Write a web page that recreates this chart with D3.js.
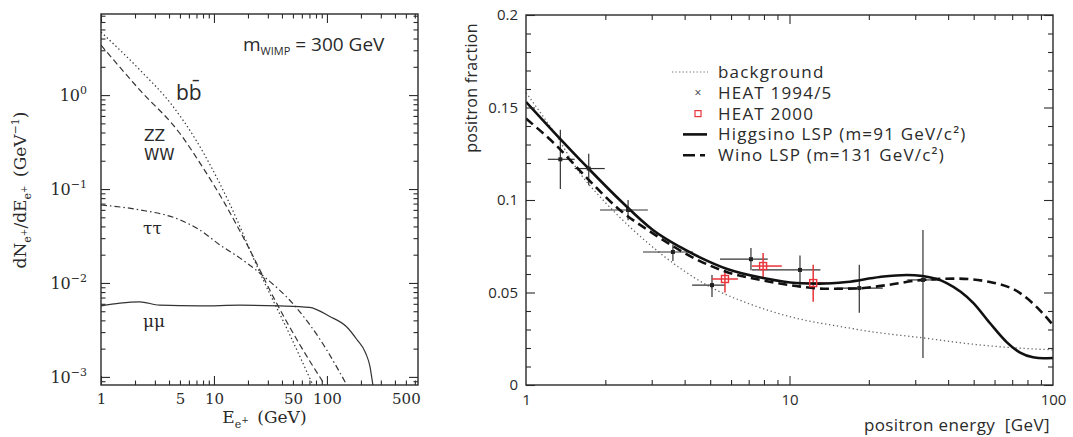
<!DOCTYPE html>
<html><head><meta charset="utf-8">
<script src="https://cdn.jsdelivr.net/npm/d3@7"></script>
<style>
body{margin:0;background:#fff;}
svg{display:block;}
</style></head>
<body>
<script>
// ---------- LEFT PANEL DATA: positron spectra dN/dE (GeV^-1) vs E (GeV) ----------
const bbE  = [1, 2.21, 4.25, 6.93, 13.3, 26.6, 47.1, 75];
const bbV  = [4.69, 1.85, 0.783, 0.332, 0.0762, 0.0115, 0.00278, 0.00082];
const wwE  = [1, 2.21, 5.0, 7.5, 12.0, 20.8, 34.6, 57.6, 96];
const wwV  = [3.4, 1.13, 0.39, 0.19, 0.076, 0.0224, 0.0066, 0.0022, 0.00082];
const tauE = [1, 2.21, 5.0, 7.5, 11.3, 16.9, 26.6, 52, 87, 150];
const tauV = [0.0676, 0.060, 0.047, 0.0366, 0.0254, 0.0185, 0.0122, 0.0057, 0.0025, 0.00082];
const muE  = [1, 1.47, 2.2, 3.3, 7.5, 17, 38, 70, 106, 150, 184, 220, 240, 255];
const muV  = [0.0057, 0.0061, 0.0063, 0.0058, 0.0057, 0.0058, 0.0057, 0.0055, 0.0044, 0.0034, 0.0025, 0.0018, 0.0013, 0.00082];
const leftXTicks = [1, 5, 10, 50, 100, 500];
const leftYTicks = [1e-3, 1e-2, 1e-1, 1];
const leftYExp = ["\u22123", "\u22122", "\u22121", "0"];

// ---------- RIGHT PANEL DATA: positron fraction vs energy ----------
const bgE  = [1, 1.3, 1.6, 1.96, 2.48, 3.0, 3.84, 5.0, 7.0, 10, 16.5, 20, 32, 50, 65, 100];
const bgV  = [0.158, 0.135, 0.1146, 0.1, 0.0854, 0.075, 0.0632, 0.053, 0.044, 0.037, 0.031, 0.029, 0.0255, 0.022, 0.0205, 0.019];
const higE = [1, 1.27, 1.7, 2.27, 3.03, 3.84, 4.57, 5.8, 7.94, 10.6, 13, 16.5, 22, 27.9, 32, 39.5, 49.9, 57.6, 66.7, 75, 84, 92, 100];
const higV = [0.153, 0.137, 0.118, 0.1, 0.0838, 0.0746, 0.069, 0.0627, 0.0578, 0.0551, 0.0548, 0.0557, 0.0584, 0.0595, 0.0589, 0.0551, 0.0443, 0.0335, 0.0232, 0.0175, 0.015, 0.0145, 0.0146];
const winE = [1, 1.27, 1.7, 2.27, 3.03, 4.57, 5.8, 7.94, 10.6, 13.9, 18, 23.4, 32, 43, 57.6, 75, 89, 100];
const winV = [0.144, 0.131, 0.112, 0.0946, 0.082, 0.067, 0.061, 0.0565, 0.0535, 0.052, 0.0522, 0.054, 0.0568, 0.0575, 0.0557, 0.0497, 0.0405, 0.0324];

const h95E   = [1.35, 1.73, 2.44, 3.61, 5.08, 7.14, 10.96, 18.4, 32.1];
const h95V   = [0.122, 0.117, 0.0946, 0.0719, 0.054, 0.068, 0.0622, 0.0524, 0.0568];
const h95Elo = [1.21, 1.53, 1.91, 2.78, 4.27, 5.45, 7.2, 15.1, 28];
const h95Ehi = [1.53, 1.99, 2.90, 4.30, 5.69, 8.27, 13.1, 22.6, 36];
const h95Vlo = [0.106, 0.108, 0.089, 0.067, 0.0476, 0.062, 0.054, 0.039, 0.0146];
const h95Vhi = [0.138, 0.125, 0.100, 0.076, 0.0595, 0.074, 0.070, 0.065, 0.0838];

const h00E   = [5.69, 7.94, 12.3];
const h00V   = [0.0573, 0.0643, 0.0551];
const h00Elo = [5.08, 7.2, 10.7];
const h00Ehi = [6.37, 9.35, 13.9];
const h00Vlo = [0.050, 0.0578, 0.045];
const h00Vhi = [0.062, 0.0713, 0.065];

const rightXTicks = [1, 10, 100];
const rightYTicks = [0, 0.05, 0.1, 0.15, 0.2];
const legendLabels = ["background", "HEAT 1994/5", "HEAT 2000", "Higgsino LSP (m=91 GeV/c\u00B2)", "Wino LSP (m=131 GeV/c\u00B2)"];

// ---------- DRAW ----------
const W = 1073, H = 437;
const svg = d3.select("body").append("svg").attr("width", W).attr("height", H);
svg.append("rect").attr("width", W).attr("height", H).attr("fill", "#fff");

const SERIF = "'DejaVu Serif', serif";
const SANS = "'Open Sans', 'Noto Sans', sans-serif";
const INK = "#2a2a2a";

// scales
const xL = d3.scaleLog().domain([1, 640]).range([101, 418]);
const yL = d3.scaleLog().domain([8.2e-4, 7.3]).range([385, 14]);
const xR = d3.scaleLog().domain([1, 100]).range([526, 1053]);
const yR = d3.scaleLinear().domain([0, 0.2]).range([385, 15]);

function logMinors(lo, hi) {
  const out = [];
  for (let d = Math.floor(Math.log10(lo)); d <= Math.ceil(Math.log10(hi)); d++) {
    for (let m = 2; m <= 9; m++) { const v = m * Math.pow(10, d); if (v > lo && v < hi) out.push(v); }
  }
  return out;
}
function styleAxis(g) {
  g.select(".domain").remove();
  g.selectAll(".tick line").attr("stroke", INK).attr("stroke-width", 1.1);
}
function frame(xs, ys) {
  const [x0, x1] = xs.range(), [y0, y1] = ys.range();
  svg.append("rect").attr("x", x0).attr("y", y1).attr("width", x1 - x0).attr("height", y0 - y1)
    .attr("fill", "none").attr("stroke", INK).attr("stroke-width", 1.4);
}
function ticksAll(xs, ys, xMaj, xMin, yMaj, yMin, majLen, minLen) {
  const [x0, x1] = xs.range(), [y0, y1] = ys.range();
  const add = (axisFn, scale, vals, len, tr) => {
    svg.append("g").attr("transform", tr)
      .call(axisFn(scale).tickValues(vals).tickSizeInner(-len).tickSizeOuter(0).tickFormat(""))
      .call(styleAxis);
  };
  add(d3.axisBottom, xs, xMaj, majLen, `translate(0,${y0})`);
  add(d3.axisBottom, xs, xMin, minLen, `translate(0,${y0})`);
  add(d3.axisTop, xs, xMaj, majLen, `translate(0,${y1})`);
  add(d3.axisTop, xs, xMin, minLen, `translate(0,${y1})`);
  add(d3.axisLeft, ys, yMaj, majLen, `translate(${x0},0)`);
  add(d3.axisLeft, ys, yMin, minLen, `translate(${x0},0)`);
  add(d3.axisRight, ys, yMaj, majLen, `translate(${x1},0)`);
  add(d3.axisRight, ys, yMin, minLen, `translate(${x1},0)`);
}

// ===== LEFT PANEL =====
svg.append("clipPath").attr("id", "clipL").append("rect")
  .attr("x", xL.range()[0]).attr("y", yL.range()[1])
  .attr("width", xL.range()[1] - xL.range()[0]).attr("height", yL.range()[0] - yL.range()[1]);

const lineL = d3.line().x(d => xL(d[0])).y(d => yL(d[1])).curve(d3.curveMonotoneX);
const gL = svg.append("g").attr("clip-path", "url(#clipL)");
const leftSeries = [
  {E: bbE, V: bbV, dash: "1.4,2.6"},
  {E: wwE, V: wwV, dash: "6,3.5"},
  {E: tauE, V: tauV, dash: "6,3,1.5,3"},
  {E: muE, V: muV, dash: null}
];
leftSeries.forEach(s => {
  gL.append("path").datum(s.E.map((e, i) => [e, s.V[i]]))
    .attr("d", lineL).attr("fill", "none").attr("stroke", "#333").attr("stroke-width", 1.2)
    .attr("stroke-dasharray", s.dash);
});

ticksAll(xL, yL, [1, 10, 100], logMinors(1, 640), leftYTicks, logMinors(8.2e-4, 7.3), 9, 4.5);

// left tick labels
svg.append("g").attr("transform", `translate(0,${yL.range()[0]})`)
  .call(d3.axisBottom(xL).tickValues(leftXTicks).tickSize(0).tickPadding(8).tickFormat(d3.format("d")))
  .call(g => g.select(".domain").remove())
  .call(g => g.selectAll("text").attr("font-family", SERIF).attr("font-size", 15).attr("fill", INK));

const yLab = svg.append("g").attr("transform", `translate(${xL.range()[0]},0)`)
  .call(d3.axisLeft(yL).tickValues(leftYTicks).tickSize(0).tickPadding(14).tickFormat(""))
  .call(g => g.select(".domain").remove());
yLab.selectAll("text").each(function(d, i) {
  const t = d3.select(this).attr("font-family", SERIF).attr("font-size", 16).attr("fill", INK).attr("dy", "0.35em");
  t.append("tspan").text("10");
  t.append("tspan").attr("dy", -7).attr("font-size", 11).text(leftYExp[i]);
});

// left axis titles
const xt = svg.append("text").attr("x", (xL(10) + xL(100)) / 2 - 6).attr("y", 423)
  .attr("text-anchor", "middle").attr("font-family", SERIF).attr("font-size", 17).attr("fill", INK);
xt.append("tspan").text("E");
xt.append("tspan").attr("dy", 5).attr("font-size", 11).text("e");
xt.append("tspan").attr("dy", -5).attr("font-size", 9).text("+");
xt.append("tspan").attr("dy", 0).text("\u2002(GeV)");

const yt = svg.append("text").attr("transform", `translate(26,${190}) rotate(-90)`)
  .attr("text-anchor", "middle").attr("font-family", SERIF).attr("font-size", 17).attr("fill", INK);
yt.append("tspan").text("dN");
yt.append("tspan").attr("dy", 5).attr("font-size", 11).text("e");
yt.append("tspan").attr("dy", -4).attr("font-size", 9).text("+");
yt.append("tspan").attr("dy", -1).text("/dE");
yt.append("tspan").attr("dy", 5).attr("font-size", 11).text("e");
yt.append("tspan").attr("dy", -4).attr("font-size", 9).text("+");
yt.append("tspan").attr("dy", -1).text("\u2002(GeV");
yt.append("tspan").attr("dy", -7).attr("font-size", 11).text("\u22121");
yt.append("tspan").attr("dy", 7).text(")");

// annotations
const mw = svg.append("text").attr("x", 243).attr("y", 51).attr("font-family", SANS).attr("font-size", 19).attr("fill", INK);
mw.append("tspan").text("m");
mw.append("tspan").attr("dy", 4).attr("font-size", 11).text("WIMP");
mw.append("tspan").attr("dy", -4).text(" = 300 GeV");
svg.append("text").attr("x", 176).attr("y", 100).attr("font-family", SANS).attr("font-size", 21).attr("fill", INK).text("bb\u0304");
svg.append("text").attr("x", 144).attr("y", 141).attr("font-family", "'DejaVu Sans', sans-serif").attr("font-size", 15.5).attr("fill", INK).text("ZZ");
svg.append("text").attr("x", 144).attr("y", 160).attr("font-family", "'DejaVu Sans', sans-serif").attr("font-size", 15.5).attr("fill", INK).text("WW");
svg.append("text").attr("x", 143).attr("y", 234).attr("font-family", SERIF).attr("font-size", 17).attr("fill", INK).text("\u03C4\u03C4");
svg.append("text").attr("x", 143).attr("y", 327).attr("font-family", SERIF).attr("font-size", 17).attr("fill", INK).text("\u03BC\u03BC");

frame(xL, yL);

// ===== RIGHT PANEL =====
svg.append("clipPath").attr("id", "clipR").append("rect")
  .attr("x", xR.range()[0]).attr("y", yR.range()[1])
  .attr("width", xR.range()[1] - xR.range()[0]).attr("height", yR.range()[0] - yR.range()[1]);
const gR = svg.append("g").attr("clip-path", "url(#clipR)");
const lineR = d3.line().x(d => xR(d[0])).y(d => yR(d[1])).curve(d3.curveMonotoneX);

gR.append("path").datum(bgE.map((e, i) => [e, bgV[i]])).attr("d", lineR)
  .attr("fill", "none").attr("stroke", "#666").attr("stroke-width", 1.3).attr("stroke-dasharray", "1.3,2.7");

// error bars
function errBars(E, V, Elo, Ehi, Vlo, Vhi, color, w) {
  const g = gR.append("g").attr("stroke", color).attr("stroke-width", w);
  E.forEach((e, i) => {
    g.append("line").attr("x1", xR(Elo[i])).attr("x2", xR(Ehi[i])).attr("y1", yR(V[i])).attr("y2", yR(V[i]));
    g.append("line").attr("x1", xR(e)).attr("x2", xR(e)).attr("y1", yR(Vlo[i])).attr("y2", yR(Vhi[i]));
  });
  return g;
}
errBars(h95E, h95V, h95Elo, h95Ehi, h95Vlo, h95Vhi, "#333", 1.2);
errBars(h00E, h00V, h00Elo, h00Ehi, h00Vlo, h00Vhi, "#e8343a", 1.5);

gR.append("path").datum(higE.map((e, i) => [e, higV[i]])).attr("d", lineR)
  .attr("fill", "none").attr("stroke", "#111").attr("stroke-width", 2.6);
gR.append("path").datum(winE.map((e, i) => [e, winV[i]])).attr("d", lineR)
  .attr("fill", "none").attr("stroke", "#111").attr("stroke-width", 2.6).attr("stroke-dasharray", "9,5");

// markers
gR.selectAll(".m95").data(h95E).join("rect")
  .attr("x", (d) => xR(d) - 2).attr("y", (d, i) => yR(h95V[i]) - 2).attr("width", 4).attr("height", 4).attr("fill", "#222");
gR.selectAll(".m00").data(h00E).join("rect")
  .attr("x", (d) => xR(d) - 3.5).attr("y", (d, i) => yR(h00V[i]) - 3.5).attr("width", 7).attr("height", 7)
  .attr("fill", "none").attr("stroke", "#e8343a").attr("stroke-width", 1.4);

ticksAll(xR, yR, [10], logMinors(1, 100), rightYTicks, d3.range(0.01, 0.2, 0.01).filter(v => Math.abs(v / 0.05 - Math.round(v / 0.05)) > 1e-6), 9, 5);

svg.append("g").attr("transform", `translate(0,${yR.range()[0]})`)
  .call(d3.axisBottom(xR).tickValues(rightXTicks).tickSize(0).tickPadding(9).tickFormat(d3.format("d")))
  .call(g => g.select(".domain").remove())
  .call(g => g.selectAll("text").attr("font-family", SANS).attr("font-size", 15).attr("fill", INK));
svg.append("g").attr("transform", `translate(${xR.range()[0]},0)`)
  .call(d3.axisLeft(yR).tickValues(rightYTicks).tickSize(0).tickPadding(8).tickFormat(d => d === 0 ? "0" : d3.format("")(d)))
  .call(g => g.select(".domain").remove())
  .call(g => g.selectAll("text").attr("font-family", SANS).attr("font-size", 15).attr("fill", INK));

svg.append("text").attr("x", 1050).attr("y", 431).attr("text-anchor", "end")
  .attr("font-family", SANS).attr("font-size", 17).attr("letter-spacing", 0.4).attr("fill", INK).text("positron energy\u00A0 [GeV]");
svg.append("text").attr("transform", `translate(477,88) rotate(-90)`).attr("text-anchor", "middle")
  .attr("font-family", SANS).attr("font-size", 16).attr("letter-spacing", 0.3).attr("fill", INK).text("positron fraction");

// legend
const lg = svg.append("g");
const ly = i => 72 + i * 20.8;
lg.append("line").attr("x1", 672).attr("x2", 708).attr("y1", ly(0)).attr("y2", ly(0))
  .attr("stroke", "#777").attr("stroke-width", 1.2).attr("stroke-dasharray", "1.3,2.2");
lg.append("text").attr("x", 698).attr("y", ly(1)).attr("dy", "0.35em").attr("text-anchor", "middle")
  .attr("font-family", SANS).attr("font-size", 12).attr("fill", "#333").text("\u00D7");
lg.append("rect").attr("x", 695).attr("y", ly(2) - 3).attr("width", 6).attr("height", 6)
  .attr("fill", "none").attr("stroke", "#e8343a").attr("stroke-width", 1.2);
lg.append("line").attr("x1", 683).attr("x2", 707).attr("y1", ly(3)).attr("y2", ly(3)).attr("stroke", "#111").attr("stroke-width", 2.6);
lg.append("line").attr("x1", 683).attr("x2", 707).attr("y1", ly(4)).attr("y2", ly(4)).attr("stroke", "#111").attr("stroke-width", 2.6)
  .attr("stroke-dasharray", "12,5,5,30");
legendLabels.forEach((t, i) => {
  lg.append("text").attr("x", 718).attr("y", ly(i)).attr("dy", "0.35em").attr("font-family", SANS).attr("font-size", 17)
    .attr("letter-spacing", 1.2).attr("fill", INK).text(t);
});

frame(xR, yR);
</script>
</body></html>
